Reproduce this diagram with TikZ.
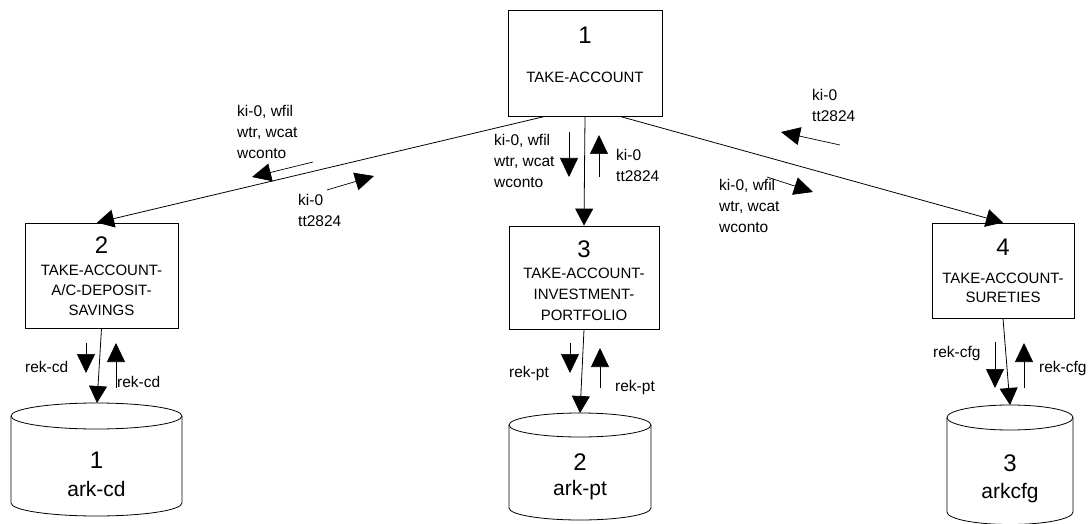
\documentclass[tikz,border=0pt]{standalone}
\usepackage{fontspec}
\setmainfont{Liberation Sans}
\usetikzlibrary{arrows.meta}

\begin{document}
\begin{tikzpicture}[x=1pt,y=-1pt,
  proc/.style={draw, line width=0.8pt, inner sep=0},
  num/.style={font=\fontsize{24}{26}\selectfont, inner sep=0},
  ptxt/.style={font=\fontsize{15}{20}\selectfont, inner sep=0},
  lab/.style={font=\fontsize{15.5}{21}\selectfont, inner sep=0, align=left, anchor=west},
  store/.style={font=\fontsize{21}{24}\selectfont, inner sep=0},
  flow/.style={line width=0.8pt, -{Triangle[length=17pt,width=18pt]}},
  data/.style={line width=0.7pt, -{Triangle[length=19pt,width=18pt]}},
  drum/.style={line width=0.8pt}]

\useasboundingbox (0,0) rectangle (1090,524);
\fill[white] (0,0) rectangle (1090,524);

% processes
\node[proc, minimum width=154pt, minimum height=106pt] (b1) at (585,63) {};
\node[proc, minimum width=153pt, minimum height=105pt] (b2) at (101.5,275.5) {};
\node[proc, minimum width=150pt, minimum height=103pt] (b3) at (584,277.5) {};
\node[proc, minimum width=142pt, minimum height=95pt] (b4) at (1003,270.5) {};

\node[num] (n1) at (585,35) {1};
\node[ptxt] (t1) at (585,77) {TAKE-ACCOUNT};

\node[num] (n2) at (101.5,245) {2};
\node[ptxt] (t2a) at (101.5,270) {TAKE-ACCOUNT-};
\node[ptxt] (t2b) at (101.5,290) {A/C-DEPOSIT-};
\node[ptxt] (t2c) at (101.5,310) {SAVINGS};

\node[num] (n3) at (584,249) {3};
\node[ptxt] (t3a) at (584,273) {TAKE-ACCOUNT-};
\node[ptxt] (t3b) at (584,294) {INVESTMENT-};
\node[ptxt] (t3c) at (584,315) {PORTFOLIO};

\node[num] (n4) at (1003,247) {4};
\node[ptxt] (t4a) at (1003,278) {TAKE-ACCOUNT-};
\node[ptxt] (t4b) at (1003,297) {SURETIES};

% data stores
\draw[drum] (11,416) -- (11,503) arc[start angle=180, end angle=0, x radius=85.5, y radius=13] -- (182,416);
\draw[drum] (96.5,416) ellipse [x radius=85.5, y radius=13];
\coordinate (c1) at (97,403);
\node[num] (s1n) at (96.5,460) {1};
\node[store] (s1) at (96.5,489) {ark-cd};

\draw[drum] (509,425) -- (509,508) arc[start angle=180, end angle=0, x radius=71, y radius=12] -- (651,425);
\draw[drum] (580,425) ellipse [x radius=71, y radius=12];
\coordinate (c2) at (580,413);
\node[num] (s2n) at (580,462) {2};
\node[store] (s2) at (580,490) {ark-pt};

\draw[drum] (947,417.5) -- (947,512) arc[start angle=180, end angle=0, x radius=63, y radius=12.5] -- (1073,417.5);
\draw[drum] (1010,417.5) ellipse [x radius=63, y radius=12.5];
\coordinate (c3) at (1010,405);
\node[num] (s3n) at (1010,463) {3};
\node[store] (s3) at (1010,493) {arkcfg};

% main connectors
\draw[flow] ([xshift=-40pt]b1.south) -- ([xshift=-4.5pt]b2.north);
\draw[flow] (b1.south) -- (b3.north);
\draw[flow] ([xshift=35pt]b1.south) -- (b4.north);
\draw[flow] (b2.south) -- (c1);
\draw[flow] (b3.south) -- (c2);
\draw[flow] (b4.south) -- (c3);

% data flow markers
\coordinate (a1s) at (313,162); \coordinate (a1e) at (252,177);
\coordinate (a2s) at (327,190); \coordinate (a2e) at (374,176);
\coordinate (a3s) at (569,132); \coordinate (a3e) at (569,177);
\coordinate (a4s) at (599,177); \coordinate (a4e) at (599,135);
\coordinate (a5s) at (840,145); \coordinate (a5e) at (781,132);
\coordinate (a6s) at (767,177); \coordinate (a6e) at (813,192);
\coordinate (d1s) at (86,343);  \coordinate (d1e) at (86,373);
\coordinate (u1s) at (116,388); \coordinate (u1e) at (116,343);
\coordinate (d2s) at (570,343); \coordinate (d2e) at (570,373);
\coordinate (u2s) at (600,388); \coordinate (u2e) at (600,348);
\coordinate (d3s) at (995,342); \coordinate (d3e) at (995,388);
\coordinate (u3s) at (1024,388); \coordinate (u3e) at (1024,343);

\foreach \s/\e in {a1s/a1e,a2s/a2e,a3s/a3e,a4s/a4e,a5s/a5e,a6s/a6e,
                   d1s/d1e,u1s/u1e,d2s/d2e,u2s/u2e,d3s/d3e,u3s/u3e}
  \draw[data] (\s) -- (\e);

% flow labels
\node[lab] (l1) at (237,132) {ki-0, wfil\\wtr, wcat\\wconto};
\node[lab] (l2) at (298,210) {ki-0\\tt2824};
\node[lab] (l3) at (494,161) {ki-0, wfil\\wtr, wcat\\wconto};
\node[lab] (l4) at (616,165) {ki-0\\tt2824};
\node[lab] (l5) at (812,105) {ki-0\\tt2824};
\node[lab] (l6) at (719,206) {ki-0, wfil\\wtr, wcat\\wconto};
\node[lab] (r1) at (25,367) {rek-cd};
\node[lab] (r2) at (117,382) {rek-cd};
\node[lab] (r3) at (509,373) {rek-pt};
\node[lab] (r4) at (615,387) {rek-pt};
\node[lab] (r5) at (933,353) {rek-cfg};
\node[lab] (r6) at (1039,368) {rek-cfg};
\end{tikzpicture}
\end{document}
